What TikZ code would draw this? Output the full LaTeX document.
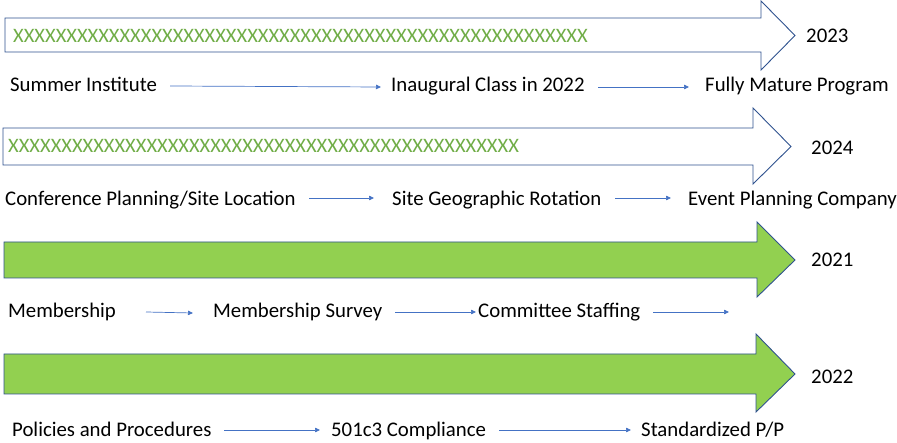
\documentclass[tikz,border=0pt]{standalone}
\usepackage{fontspec}
\setmainfont{Carlito}
\usetikzlibrary{arrows.meta}
\definecolor{outl}{HTML}{2F528F}
\definecolor{conn}{HTML}{4472C4}
\definecolor{gfill}{HTML}{92D050}
\definecolor{xgreen}{HTML}{70AD47}
\tikzset{
  bigarrow/.style={draw=outl, line width=0.9pt, line join=miter},
  lbl/.style={anchor=base west, inner sep=0pt, font=\fontsize{20.8}{24}\selectfont, text=black},
  xtext/.style={anchor=base west, inner sep=0pt, font=\fontsize{20.5}{24}\selectfont, text=xgreen},
  conarrow/.style={draw=conn, line width=0.7pt, -{Triangle[length=5pt,width=4.5pt]}}
}
\begin{document}
\begin{tikzpicture}[x=1pt,y=-1pt]
\useasboundingbox (0,0) rectangle (897,443);
% big arrows
\path[bigarrow, fill=white] (5,18) -- (761,18) -- (761,1) -- (795,35.5) -- (761,70) -- (761,52) -- (5,52) -- cycle;
\path[bigarrow, fill=white] (3,128) -- (753,128) -- (753,108) -- (791,146.5) -- (753,184) -- (753,165) -- (3,165) -- cycle;
\path[bigarrow, fill=gfill] (4,242) -- (757,242) -- (757,222) -- (795,260) -- (757,297) -- (757,278) -- (4,278) -- cycle;
\path[bigarrow, fill=gfill] (4,354) -- (756,354) -- (756,334) -- (795,374) -- (756,412) -- (756,394) -- (4,394) -- cycle;
% X texts
\node[xtext] (x1) at (13,43) {XXXXXXXXXXXXXXXXXXXXXXXXXXXXXXXXXXXXXXXXXXXXXXXXXXXXXX};
\node[xtext] (x2) at (8,153) {XXXXXXXXXXXXXXXXXXXXXXXXXXXXXXXXXXXXXXXXXXXXXXXX};
% years
\node[lbl] (y1) at (806,43) {2023};
\node[lbl] (y2) at (811,155) {2024};
\node[lbl] (y3) at (811,267) {2021};
\node[lbl] (y4) at (811,384) {2022};
% row 1
\node[lbl] (a1) at (10,92) {Summer Institute};
\node[lbl] (a2) at (391,92) {Inaugural Class in 2022};
\node[lbl] (a3) at (705,92) {Fully Mature Program};
\coordinate (a1s) at (170,86); \coordinate (a1e) at (381,87);
\coordinate (a2s) at (598,87); \coordinate (a2e) at (689,87);
\draw[conarrow] (a1s) -- (a1e);
\draw[conarrow] (a2s) -- (a2e);
% row 2
\node[lbl] (b1) at (5,205.5) {Conference Planning/Site Location};
\node[lbl] (b2) at (392,205.5) {Site Geographic Rotation};
\node[lbl] (b3) at (688,205.5) {Event Planning Company};
\coordinate (b1s) at (309,198); \coordinate (b1e) at (374,198);
\coordinate (b2s) at (615,198); \coordinate (b2e) at (671,198);
\draw[conarrow] (b1s) -- (b1e);
\draw[conarrow] (b2s) -- (b2e);
% row 3
\node[lbl] (c1) at (8,317.5) {Membership};
\node[lbl] (c2) at (213,317.5) {Membership Survey};
\node[lbl] (c3) at (478,317.5) {Committee Staffing};
\coordinate (c1s) at (146,312); \coordinate (c1e) at (193,313);
\coordinate (c2s) at (395,312); \coordinate (c2e) at (476,312);
\coordinate (c3s) at (653,312); \coordinate (c3e) at (729,312);
\draw[conarrow] (c1s) -- (c1e);
\draw[conarrow] (c2s) -- (c2e);
\draw[conarrow] (c3s) -- (c3e);
% row 4
\node[lbl] (d1) at (12,436.5) {Policies and Procedures};
\node[lbl] (d2) at (331,436.5) {501c3 Compliance};
\node[lbl] (d3) at (641,436.5) {Standardized P/P};
\coordinate (d1s) at (224,430); \coordinate (d1e) at (320,430);
\coordinate (d2s) at (499,430); \coordinate (d2e) at (631,430);
\draw[conarrow] (d1s) -- (d1e);
\draw[conarrow] (d2s) -- (d2e);
\end{tikzpicture}
\end{document}
